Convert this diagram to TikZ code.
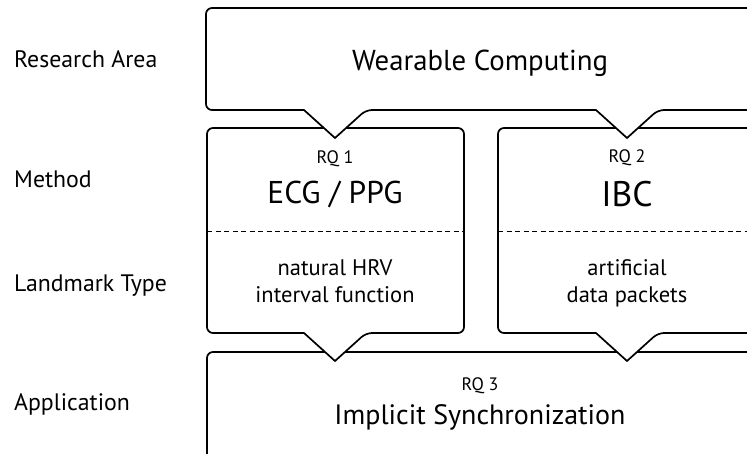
\documentclass[tikz,border=0pt]{standalone}
\usepackage{fontspec}
\setmainfont{PT Sans}
\begin{document}
\begin{tikzpicture}[x=1pt,y=-1pt,
  bub/.style={draw=black, line width=1.7pt, fill=white, line join=miter},
  sep/.style={draw=black, line width=0.9pt, dash pattern=on 5pt off 3.5pt},
  lab/.style={anchor=base west, inner sep=0pt, font=\fontsize{23.8}{28}\selectfont},
  txt/.style={anchor=base, inner sep=0pt, font=\fontsize{22.5}{27}\selectfont},
  rq/.style={anchor=base, inner sep=0pt, font=\fontsize{18}{22}\selectfont},
  big/.style={anchor=base, inner sep=0pt, font=\fontsize{28}{34}\selectfont},
  top/.style={anchor=base, inner sep=0pt, font=\fontsize{28.8}{34}\selectfont},
  ecg/.style={anchor=base, inner sep=0pt, font=\fontsize{31.5}{38}\selectfont},
  ibc/.style={anchor=base, inner sep=0pt, font=\fontsize{35.5}{42}\selectfont}
]
\useasboundingbox (0,0) rectangle (747,453);

% bottom box (Application)
\path[bub, rounded corners=6pt] (207,352) -- (754,352) -- (754,462) -- (207,462) -- cycle;

% method boxes
\path[bub, rounded corners=6pt] (207,128) -- (464,128) -- (464,333) -- (366,333)
  [sharp corners] -- (335,361) -- (304,333) [rounded corners=6pt] -- (207,333) -- cycle;
\path[bub, rounded corners=6pt] (498,128) -- (756,128) -- (756,333) -- (658,333)
  [sharp corners] -- (627,361) -- (596,333) [rounded corners=6pt] -- (498,333) -- cycle;

% top box (Research Area)
\path[bub, rounded corners=6pt] (206,8) -- (754,8) -- (754,110) -- (658,110)
  [sharp corners] -- (627,138) -- (596,110) [rounded corners=6pt] -- (366,110)
  [sharp corners] -- (335,138) -- (304,110) [rounded corners=6pt] -- (206,110) -- cycle;

% dashed separators
\draw[sep] (207,231) -- (464,231);
\draw[sep] (498,231) -- (756,231);

% row labels
\node[lab] (ra) at (14,67) {Research Area};
\node[lab] (me) at (14,187) {Method};
\node[lab] (lt) at (14,291) {Landmark Type};
\node[lab] (ap) at (14,410) {Application};

% texts
\node[top] (wc) at (480,70) {Wearable Computing};
\node[rq] (rq1) at (335,163) {RQ 1};
\node[ecg] (m1) at (335,203) {ECG / PPG};
\node[txt] (l1a) at (335,275) {natural HRV};
\node[txt] (l1b) at (335,302) {interval function};
\node[rq] (rq2) at (627,162) {RQ 2};
\node[ibc] (m2) at (627,206) {IBC};
\node[txt] (l2a) at (627,275) {artificial};
\node[txt] (l2b) at (627,302) {data packets};
\node[rq] (rq3) at (480,390) {RQ 3};
\node[big] (is) at (480,424) {Implicit Synchronization};
\end{tikzpicture}
\end{document}
